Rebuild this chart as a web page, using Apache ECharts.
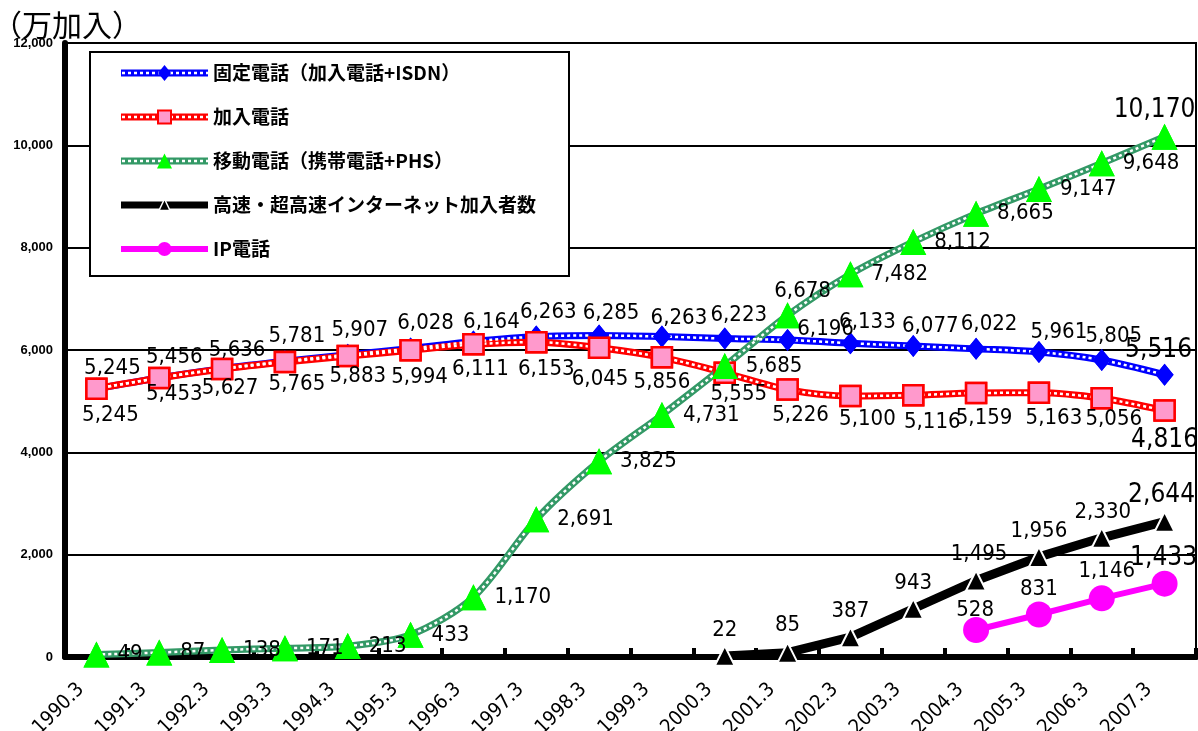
<!DOCTYPE html>
<html>
<head>
<meta charset="utf-8">
<script src="https://cdn.jsdelivr.net/npm/echarts@6/dist/echarts.min.js"></script>
<style>
  html, body { margin: 0; padding: 0; background: #ffffff; }
  #chart { width: 1198px; height: 731px; }
</style>
</head>
<body>
<div id="chart"></div>
<script>
// 年度末（各年3月末）
const periods = ['1990.3', '1991.3', '1992.3', '1993.3', '1994.3', '1995.3', '1996.3', '1997.3', '1998.3',
  '1999.3', '2000.3', '2001.3', '2002.3', '2003.3', '2004.3', '2005.3', '2006.3', '2007.3'];

// 加入数（万加入）
const fixedPhone = [5245, 5456, 5636, 5781, 5907, 6028, 6164, 6263, 6285, 6263, 6223, 6196, 6133, 6077, 6022, 5961, 5805, 5516];
const subscriberPhone = [5245, 5453, 5627, 5765, 5883, 5994, 6111, 6153, 6045, 5856, 5555, 5226, 5100, 5116, 5159, 5163, 5056, 4816];
const mobilePhone = [49, 87, 138, 171, 213, 433, 1170, 2691, 3825, 4731, 5685, 6678, 7482, 8112, 8665, 9147, 9648, 10170];
const broadband = [null, null, null, null, null, null, null, null, null, null, 22, 85, 387, 943, 1495, 1956, 2330, 2644];
const ipPhone = [null, null, null, null, null, null, null, null, null, null, null, null, null, null, 528, 831, 1146, 1433];

const seriesNames = ['固定電話（加入電話+ISDN）', '加入電話', '移動電話（携帯電話+PHS）', '高速・超高速インターネット加入者数', 'IP電話'];
const yMax = 12000;
const yStep = 2000;

// 数値ラベルの置き場所（記号中心からのずれ）。null は記号の右側に置く。
const fixedShift = [[16,-20],[15,-21],[15,-18],[12,-25],[12,-24],[15,-25],[18,-19],[12,-24],[12,-22],[17,-18],[14,-23],[38,-11],[17,-21],[17,-20],[13,-25],[20,-20],[12,-24],[-6,-25]];
const subscriberShift = [[14,27],[15,16],[8,19],[12,22],[10,20],[9,27],[7,25],[10,27],[1,32],[0,25],[14,22],[13,26],[17,23],[19,27],[8,25],[15,25],[12,21],[0,30]];
const mobileShift = [null,null,null,null,null,null,null,null,null,null,null,[15,-24],null,null,null,null,null,[-10,-26]];
const broadbandShift = [null,null,null,null,null,null,null,null,null,null,[0,-26],[0,-27],[0,-26],[0,-25],[3,-26],[0,-26],[1,-26],[-3,-26]];
const ipShift = [null,null,null,null,null,null,null,null,null,null,null,null,null,null,[-1,-20],[0,-25],[5,-27],[-1,-25]];

const numFont = '"Liberation Sans Narrow", "DejaVu Sans Condensed", "Liberation Sans", sans-serif';
const jpFont = '"Noto Sans CJK JP", "Noto Sans", sans-serif';
const fmt = v => Number(v).toLocaleString('en-US');
const lastIndex = periods.length - 1;

// 凡例の見本（線と記号）を小さなSVGで作る
function legendIcon(lineColor, lineWidth, chain, markerSvg) {
  let svg = "<svg xmlns='http://www.w3.org/2000/svg' width='87' height='20' viewBox='0 0 87 20'>" +
    "<line x1='0' y1='10' x2='87' y2='10' stroke='" + lineColor + "' stroke-width='" + lineWidth + "'/>";
  if (chain) {
    svg += "<line x1='1' y1='10' x2='87' y2='10' stroke='#ffffff' stroke-width='2.5' stroke-dasharray='3 3'/>";
  }
  svg += markerSvg + '</svg>';
  return 'image://data:image/svg+xml;charset=utf-8,' + encodeURIComponent(svg);
}

const legendIcons = [
  legendIcon('#0000ff', 7, true, "<path d='M43.5 2 L50 10 L43.5 18 L37 10 Z' fill='#0000ff'/>"),
  legendIcon('#ff0000', 7, true, "<rect x='37' y='3.5' width='13' height='13' fill='#ff99cc' stroke='#ff0000' stroke-width='2'/>"),
  legendIcon('#339966', 7, true, "<path d='M43.5 2.5 L51 17.5 L36 17.5 Z' fill='#00ff00'/>"),
  legendIcon('#000000', 7, false, "<path d='M43.5 4 L49 15.5 L38 15.5 Z' fill='#000000' stroke='#ffffff' stroke-width='1.5'/>"),
  legendIcon('#ff00ff', 6, false, "<circle cx='43.5' cy='10' r='7' fill='#ff00ff'/>")
];

function labelledData(values, shifts) {
  return values.map((v, i) => {
    if (v === null) return '-';
    const big = i === lastIndex;
    const s = shifts[i];
    const label = s
      ? { show: true, position: 'inside', offset: s }
      : { show: true, position: 'right', distance: 8 };
    label.fontSize = big ? 26 : 22;
    return { value: v, label };
  });
}

const labelBase = {
  show: true,
  color: '#000',
  fontFamily: numFont,
  fontSize: 22,
  formatter: p => fmt(p.value)
};

// 白い鎖模様の入った太線：下地の線・白い破線・記号とラベル の3層で描く
function chainSeries(name, values, shifts, color, symbol, symbolSize, markStyle) {
  return [
    {
      name, type: 'line', data: values.map(v => (v === null ? '-' : v)), z: 2,
      smooth: 0.3, symbol, symbolSize, showAllSymbol: true,
      lineStyle: { color, width: 7 }, itemStyle: markStyle, label: { show: false }
    },
    {
      name, type: 'line', data: values.map(v => (v === null ? '-' : v)), z: 3, silent: true,
      smooth: 0.3, symbol: 'none',
      lineStyle: { color: '#ffffff', width: 2.5, type: [3, 3] }
    },
    {
      name, type: 'line', data: labelledData(values, shifts), z: 4,
      symbol, symbolSize, showAllSymbol: true,
      lineStyle: { width: 0, opacity: 0 }, itemStyle: markStyle,
      label: labelBase
    }
  ];
}

const chart = echarts.init(document.getElementById('chart'), null, { renderer: 'canvas' });

chart.setOption({
  animation: false,
  backgroundColor: '#ffffff',
  title: {
    text: '（万加入）',
    left: -8, top: 10, padding: 0,
    textStyle: { fontFamily: jpFont, fontSize: 30, fontWeight: 'normal', color: '#000' }
  },
  grid: {
    left: 65, right: 2, top: 43, bottom: 74,
    outerBoundsMode: 'none',
    containLabel: false,
    show: true, borderColor: '#000', borderWidth: 2, backgroundColor: 'transparent'
  },
  legend: {
    data: seriesNames.map((name, i) => ({ name, icon: legendIcons[i] })),
    orient: 'vertical',
    left: 90, top: 52,
    padding: [11, 33, 17, 31],
    itemGap: 24,
    itemWidth: 87,
    itemHeight: 20,
    backgroundColor: '#ffffff',
    borderColor: '#000',
    borderWidth: 2,
    selectedMode: false,
    textStyle: { fontFamily: jpFont, fontSize: 19, fontWeight: 'bold', color: '#000' }
  },
  xAxis: {
    type: 'category',
    data: periods,
    boundaryGap: true,
    axisLine: { lineStyle: { color: '#000', width: 6 } },
    axisTick: { show: true, inside: true, length: 9, lineStyle: { color: '#000', width: 4 } },
    axisLabel: {
      interval: 0, rotate: 45, margin: 14, padding: [0, 22, 0, 0],
      fontFamily: numFont, fontSize: 20, color: '#000'
    },
    splitLine: { show: false }
  },
  yAxis: {
    type: 'value',
    min: 0, max: yMax, interval: yStep,
    axisLine: { show: true, lineStyle: { color: '#000', width: 6 } },
    axisTick: { show: false },
    axisLabel: {
      margin: 12, fontFamily: '"Liberation Sans", Arial, sans-serif', fontSize: 13, fontWeight: 'bold', color: '#000',
      formatter: v => fmt(v)
    },
    splitLine: { show: true, lineStyle: { color: '#000', width: 2 } }
  },
  series: [
    ...chainSeries(seriesNames[0], fixedPhone, fixedShift, '#0000ff', 'diamond', [18, 22],
      { color: '#0000ff', borderColor: '#0000ff', borderWidth: 0 }),
    ...chainSeries(seriesNames[1], subscriberPhone, subscriberShift, '#ff0000', 'rect', 20,
      { color: '#ff99cc', borderColor: '#ff0000', borderWidth: 2.5 }),
    ...chainSeries(seriesNames[2], mobilePhone, mobileShift, '#339966', 'triangle', 26,
      { color: '#00ff00', borderColor: '#00ff00', borderWidth: 0 }),
    {
      name: seriesNames[3], type: 'line', data: labelledData(broadband, broadbandShift), z: 5,
      symbol: 'triangle', symbolSize: 20, showAllSymbol: true,
      lineStyle: { color: '#000', width: 9 },
      itemStyle: { color: '#000', borderColor: '#ffffff', borderWidth: 2 },
      label: labelBase
    },
    {
      name: seriesNames[4], type: 'line', data: labelledData(ipPhone, ipShift), z: 5,
      symbol: 'circle', symbolSize: 26, showAllSymbol: true,
      lineStyle: { color: '#ff00ff', width: 6 },
      itemStyle: { color: '#ff00ff', borderWidth: 0 },
      label: labelBase
    }
  ]
});
</script>
</body>
</html>
